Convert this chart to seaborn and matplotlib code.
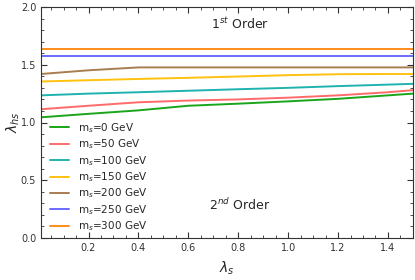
import numpy as np
import pandas as pd
import matplotlib.pyplot as plt
import seaborn as sns
from matplotlib.ticker import MultipleLocator

lam_s = [0.01, 0.2, 0.4, 0.6, 0.8, 1.0, 1.2, 1.4, 1.5]
masses = ['0', '50', '100', '150', '200', '250', '300']
lam_hs = {
    '0':   [1.045, 1.075, 1.105, 1.145, 1.163, 1.183, 1.205, 1.235, 1.25],
    '50':  [1.115, 1.145, 1.175, 1.19, 1.20, 1.215, 1.235, 1.262, 1.28],
    '100': [1.235, 1.25, 1.262, 1.275, 1.288, 1.30, 1.315, 1.328, 1.335],
    '150': [1.355, 1.366, 1.377, 1.387, 1.398, 1.41, 1.418, 1.42, 1.42],
    '200': [1.42, 1.452, 1.477, 1.477, 1.477, 1.477, 1.477, 1.477, 1.477],
    '250': [1.575] * 9,
    '300': [1.638] * 9,
}
colors = ['#1aa51a', '#ff6b6b', '#1fb3b0', '#ffc20e', '#a87d50', '#6b6bff', '#ff8c1a']

rows = []
for m in masses:
    for x, y in zip(lam_s, lam_hs[m]):
        rows.append({'lam_s': x, 'lam_hs': y, 'mass': r'm$_s$=' + m + ' GeV'})
df = pd.DataFrame(rows)

sns.set_style('ticks')
plt.rcParams['font.family'] = ['DejaVu Sans']
fig = plt.figure(figsize=(4.15, 2.8), dpi=100)
ax = fig.add_axes([0.099, 0.15, 0.896, 0.825])

sns.lineplot(data=df, x='lam_s', y='lam_hs', hue='mass', palette=colors,
             linewidth=1.4, ax=ax)

ax.set_xlim(0.01, 1.5)
ax.set_ylim(0, 2.0)
ax.xaxis.set_major_locator(MultipleLocator(0.2))
ax.xaxis.set_minor_locator(MultipleLocator(0.05))
ax.yaxis.set_major_locator(MultipleLocator(0.5))
ax.yaxis.set_minor_locator(MultipleLocator(0.1))
ax.tick_params(which='both', direction='in', top=True, right=True, labelsize=7, colors='#333333')
ax.tick_params(which='major', length=4)
ax.tick_params(which='minor', length=2)
for s in ax.spines.values():
    s.set_color('#333333')

ax.set_xlabel(r'$\lambda_s$', fontsize=10)
ax.set_ylabel(r'$\lambda_{hs}$', fontsize=10)
ax.xaxis.set_label_coords(0.5, -0.095)
ax.yaxis.set_label_coords(-0.05, 0.5)

ax.text(0.806, 1.85, r'1$^{st}$ Order', fontsize=9, ha='center', va='center')
ax.text(0.806, 0.285, r'2$^{nd}$ Order', fontsize=9, ha='center', va='center')

ax.legend(loc='lower left', bbox_to_anchor=(0.0, -0.02), frameon=False, fontsize=7.5,
          labelspacing=0.25, handlelength=1.8, handletextpad=0.8, title=None)

fig.savefig('out.png', dpi=100)
